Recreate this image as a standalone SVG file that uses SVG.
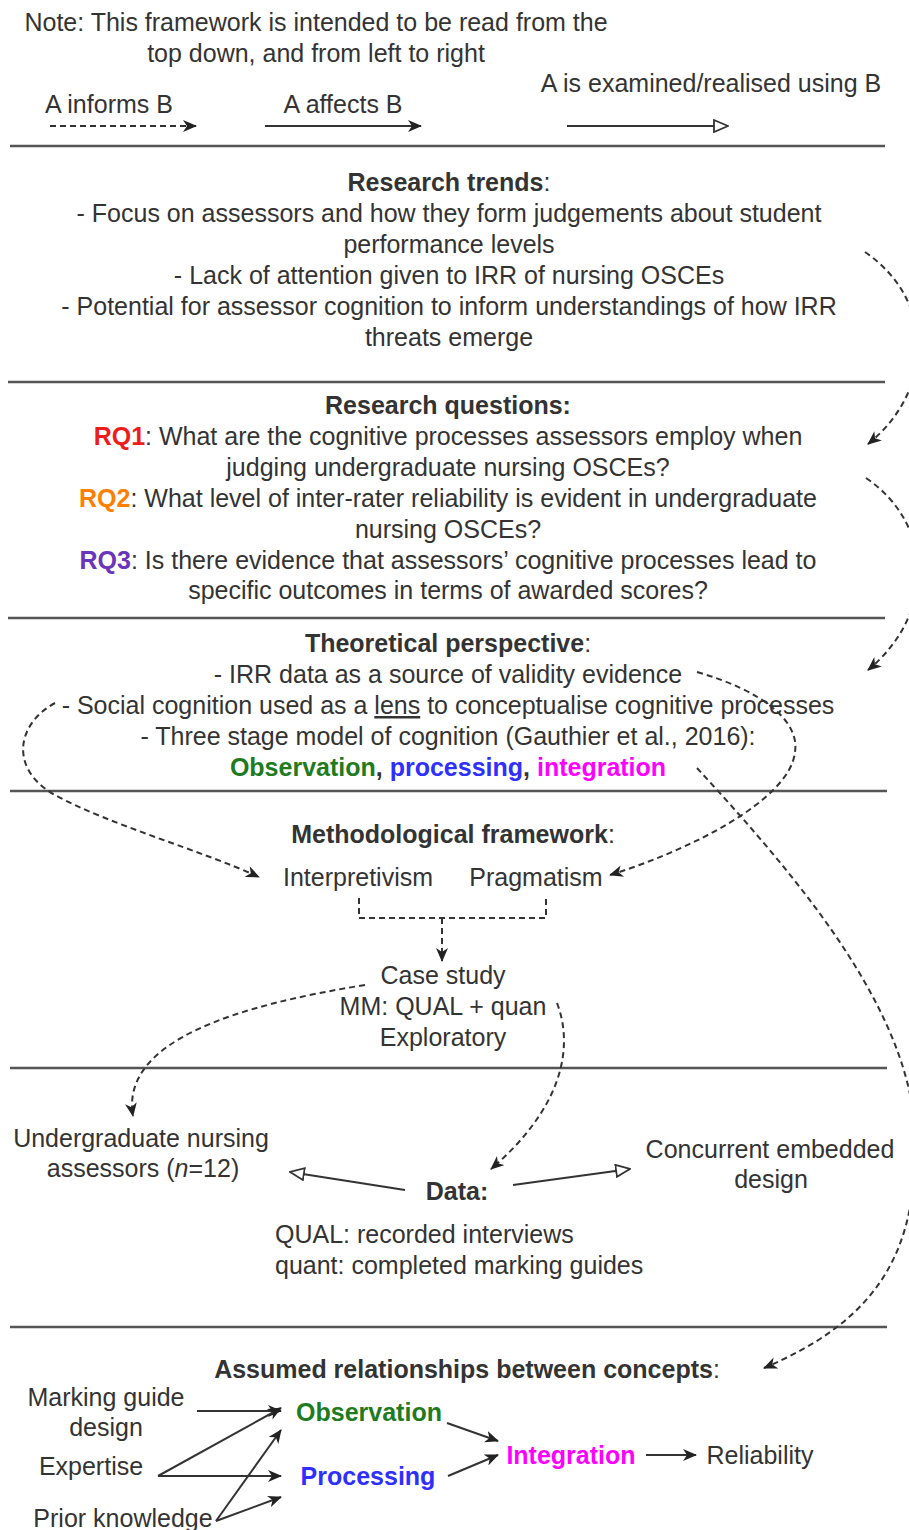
<svg xmlns="http://www.w3.org/2000/svg" width="909" height="1530" viewBox="0 0 909 1530">
  <defs>
    <style>
      text { font-family: "Liberation Sans", Arial, Helvetica, sans-serif; font-size: 25px; fill: #333; }
      .c { text-anchor: middle; }
      .b { font-weight: bold; }
      .sep { stroke: #555; stroke-width: 2.5; fill: none; }
      .link { stroke: #333; stroke-width: 2; fill: none; }
      .dash { stroke-dasharray: 6 4; }
      .green { fill: #1e7b1e; }
      .blue { fill: #2f2fff; }
      .magenta { fill: #ff00ff; }
    </style>
    <!-- filled arrowhead with a notch -->
    <marker id="classic" viewBox="0 0 14 12" refX="13" refY="6" markerWidth="14" markerHeight="12" markerUnits="userSpaceOnUse" orient="auto">
      <path d="M0,0 L14,6 L0,12 L4,6 Z" fill="#222"/>
    </marker>
    <!-- hollow triangle arrowhead -->
    <marker id="open" viewBox="-1 -1 16 14" refX="14" refY="6" markerWidth="16" markerHeight="14" markerUnits="userSpaceOnUse" orient="auto">
      <path d="M0,0 L14,6 L0,12 Z" fill="#fff" stroke="#333" stroke-width="1.8"/>
    </marker>
  </defs>

  <rect width="909" height="1530" fill="#fff"/>

  <!-- section separators -->
  <g id="separators">
    <line class="sep" x1="10" y1="146" x2="885" y2="146"/>
    <line class="sep" x1="8" y1="382" x2="885" y2="382"/>
    <line class="sep" x1="8" y1="618" x2="885" y2="618"/>
    <line class="sep" x1="10" y1="791" x2="887" y2="791"/>
    <line class="sep" x1="10" y1="1068" x2="887" y2="1068"/>
    <line class="sep" x1="10" y1="1327" x2="887" y2="1327"/>
  </g>

  <!-- legend -->
  <g id="note">
    <text class="c" x="316" y="31">Note: This framework is intended to be read from the</text>
    <text class="c" x="316" y="62">top down, and from left to right</text>
  </g>
  <g id="legend-informs">
    <text class="c" x="109" y="113">A informs B</text>
  </g>
  <g id="legend-affects">
    <text class="c" x="343" y="113">A affects B</text>
  </g>
  <g id="legend-examined">
    <text class="c" x="711" y="92">A is examined/realised using B</text>
  </g>

  <!-- research trends -->
  <g id="research-trends">
    <text class="c" x="449" y="191"><tspan class="b">Research trends</tspan>:</text>
    <text class="c" x="449" y="222">- Focus on assessors and how they form judgements about student</text>
    <text class="c" x="449" y="253">performance levels</text>
    <text class="c" x="449" y="284">- Lack of attention given to IRR of nursing OSCEs</text>
    <text class="c" x="449" y="315">- Potential for assessor cognition to inform understandings of how IRR</text>
    <text class="c" x="449" y="346">threats emerge</text>
  </g>

  <!-- research questions -->
  <g id="research-questions">
    <text class="c b" x="448" y="414">Research questions:</text>
    <text class="c" x="448" y="445"><tspan class="b" fill="#ee1c1c">RQ1</tspan>: What are the cognitive processes assessors employ when</text>
    <text class="c" x="448" y="476">judging undergraduate nursing OSCEs?</text>
    <text class="c" x="448" y="507"><tspan class="b" fill="#ff8000">RQ2</tspan>: What level of inter-rater reliability is evident in undergraduate</text>
    <text class="c" x="448" y="538">nursing OSCEs?</text>
    <text class="c" x="448" y="569"><tspan class="b" fill="#6a35b8">RQ3</tspan>: Is there evidence that assessors’ cognitive processes lead to</text>
    <text class="c" x="448" y="599">specific outcomes in terms of awarded scores?</text>
  </g>

  <!-- theoretical perspective -->
  <g id="theoretical-perspective">
    <text class="c" x="448" y="652"><tspan class="b">Theoretical perspective</tspan>:</text>
    <text class="c" x="448" y="683">- IRR data as a source of validity evidence</text>
    <text class="c" x="448" y="714">- Social cognition used as a <tspan text-decoration="underline">lens</tspan> to conceptualise cognitive processes</text>
    <text class="c" x="448" y="745">- Three stage model of cognition (Gauthier et al., 2016):</text>
    <text class="c b" x="448" y="776"><tspan class="green">Observation</tspan>, <tspan class="blue">processing</tspan>, <tspan class="magenta">integration</tspan></text>
  </g>

  <!-- methodological framework -->
  <g id="methodological-framework">
    <text class="c" x="453" y="843"><tspan class="b">Methodological framework</tspan>:</text>
  </g>
  <g id="interpretivism">
    <text class="c" x="358" y="886">Interpretivism</text>
  </g>
  <g id="pragmatism">
    <text class="c" x="536" y="886">Pragmatism</text>
  </g>
  <g id="case-study">
    <text class="c" x="443" y="984">Case study</text>
    <text class="c" x="443" y="1015">MM: QUAL + quan</text>
    <text class="c" x="443" y="1046">Exploratory</text>
  </g>

  <!-- data -->
  <g id="assessors">
    <text class="c" x="141" y="1147">Undergraduate nursing</text>
    <text class="c" x="143" y="1177">assessors (<tspan font-style="italic">n</tspan>=12)</text>
  </g>
  <g id="concurrent-design">
    <text class="c" x="770" y="1158">Concurrent embedded</text>
    <text class="c" x="771" y="1188">design</text>
  </g>
  <g id="data">
    <text class="c b" x="457" y="1200">Data:</text>
    <text x="275" y="1243">QUAL: recorded interviews</text>
    <text x="275" y="1274">quant: completed marking guides</text>
  </g>

  <!-- assumed relationships -->
  <g id="assumed-relationships">
    <text class="c" x="467" y="1378"><tspan class="b">Assumed relationships between concepts</tspan>:</text>
  </g>
  <g id="marking-guide">
    <text class="c" x="106" y="1406">Marking guide</text>
    <text class="c" x="106" y="1436">design</text>
  </g>
  <g id="expertise">
    <text class="c" x="91" y="1475">Expertise</text>
  </g>
  <g id="prior-knowledge">
    <text class="c" x="123" y="1527">Prior knowledge</text>
  </g>
  <g id="observation">
    <text class="c b green" x="369" y="1421">Observation</text>
  </g>
  <g id="processing">
    <text class="c b blue" x="368" y="1485">Processing</text>
  </g>
  <g id="integration">
    <text class="c b magenta" x="571" y="1464">Integration</text>
  </g>
  <g id="reliability">
    <text class="c" x="760" y="1464">Reliability</text>
  </g>

  <!-- connectors -->
  <g id="connectors">
    <!-- legend samples -->
    <path class="link dash" d="M50,126 H196" marker-end="url(#classic)"/>
    <path class="link" d="M265,126 H421" marker-end="url(#classic)"/>
    <path class="link" d="M567,126 H728" marker-end="url(#open)"/>

    <!-- trends -> questions -> perspective -->
    <path class="link dash" d="M865,252 C935,300 935,390 868,444" marker-end="url(#classic)"/>
    <path class="link dash" d="M866,478 C935,525 935,615 868,670" marker-end="url(#classic)"/>

    <!-- perspective -> interpretivism / pragmatism -->
    <path class="link dash" d="M55,703 C15,725 10,770 55,795 C110,825 200,850 259,877" marker-end="url(#classic)"/>
    <path class="link dash" d="M697,672 C760,690 800,720 795,752 C790,800 690,850 610,875" marker-end="url(#classic)"/>

    <!-- integration -> assumed relationships -->
    <path class="link dash" d="M697,768 C800,880 920,1020 915,1150 C915,1265 865,1325 764,1368" marker-end="url(#classic)"/>

    <!-- paradigms -> case study -->
    <path class="link dash" d="M359,898 V918 H546 V898"/>
    <path class="link dash" d="M442,918 V961" marker-end="url(#classic)"/>

    <!-- case study -> assessors / data -->
    <path class="link dash" d="M365,985 C240,1005 120,1040 133,1116" marker-end="url(#classic)"/>
    <path class="link dash" d="M557,1003 C575,1050 560,1110 491,1169" marker-end="url(#classic)"/>

    <!-- data -> assessors / design -->
    <path class="link" d="M405,1190 L290,1172" marker-end="url(#open)"/>
    <path class="link" d="M513,1185 L630,1169" marker-end="url(#open)"/>

    <!-- relationships between concepts -->
    <path class="link" d="M197,1411 H281" marker-end="url(#classic)"/>
    <path class="link" d="M158,1476 L281,1408" marker-end="url(#classic)"/>
    <path class="link" d="M158,1476 H281" marker-end="url(#classic)"/>
    <path class="link" d="M216,1521 L281,1430" marker-end="url(#classic)"/>
    <path class="link" d="M216,1521 L281,1497" marker-end="url(#classic)"/>
    <path class="link" d="M447,1423 L498,1441" marker-end="url(#classic)"/>
    <path class="link" d="M448,1476 L498,1455" marker-end="url(#classic)"/>
    <path class="link" d="M646,1455 H696" marker-end="url(#classic)"/>
  </g>
</svg>
